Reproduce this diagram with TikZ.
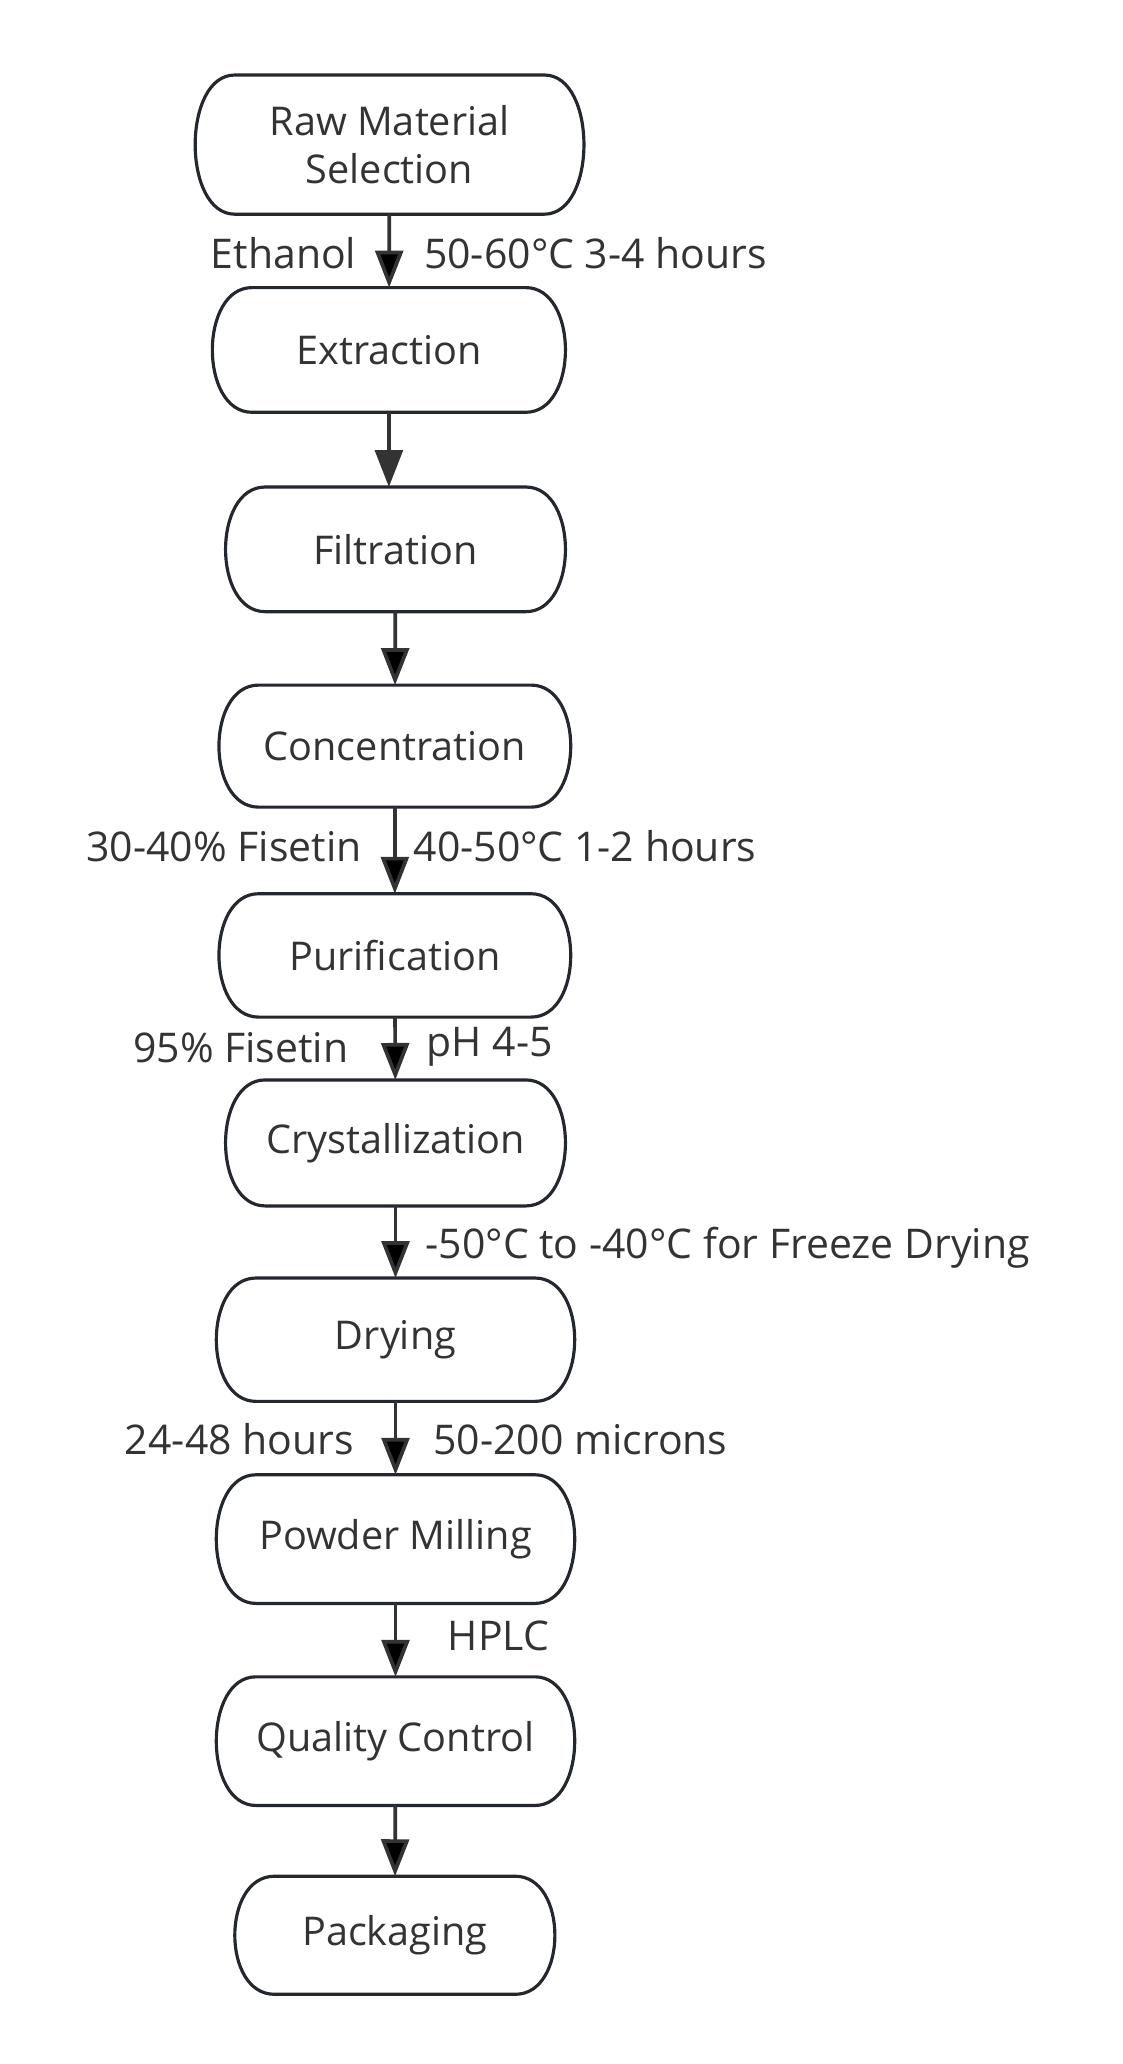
\documentclass[tikz,border=0pt]{standalone}
\usepackage{fontspec}
\setmainfont{Open Sans}
\usetikzlibrary{arrows.meta}
\definecolor{inkline}{HTML}{23272E}
\definecolor{inktext}{HTML}{333333}
\tikzset{
  stage/.style={rectangle, text=inktext, align=center, inner sep=0pt, font=\fontsize{30}{37}\selectfont,
    append after command={\pgfextra{
      \draw[draw=inkline, line width=2.4pt]
        ([xshift=30pt]\tikzlastnode.north west) -- ([xshift=-30pt]\tikzlastnode.north east)
        .. controls ([xshift=10pt]\tikzlastnode.north east) and ([xshift=10pt]\tikzlastnode.south east) .. ([xshift=-30pt]\tikzlastnode.south east)
        -- ([xshift=30pt]\tikzlastnode.south west)
        .. controls ([xshift=-10pt]\tikzlastnode.south west) and ([xshift=-10pt]\tikzlastnode.north west) .. cycle;
    }}},
  flow/.style={-{Triangle[length=28pt,width=21pt]}, line width=2.8pt, draw=inktext},
  cond/.style={text=inktext, inner sep=0pt, font=\fontsize{31}{36}\selectfont},
}
\begin{document}
\begin{tikzpicture}[x=1pt, y=-1pt]
\useasboundingbox (0,0) rectangle (850,1563);

\node[stage, minimum width=294pt, minimum height=105pt] (Raw) at (295,109.5) {Raw Material\\Selection};
\node[stage, minimum width=267pt, minimum height=94pt] (Extr) at (294.5,265) {Extraction};
\node[stage, minimum width=257pt, minimum height=94pt] (Filt) at (299.5,416) {Filtration};
\node[stage, minimum width=266pt, minimum height=92pt] (Conc) at (299,565) {Concentration};
\node[stage, minimum width=266pt, minimum height=93pt] (Puri) at (299,723.5) {Purification};
\node[stage, minimum width=257pt, minimum height=95pt] (Crys) at (299.5,865.5) {Crystallization};
\node[stage, minimum width=271pt, minimum height=93pt] (Dry) at (299.5,1014.5) {Drying};
\node[stage, minimum width=271pt, minimum height=97pt] (Mill) at (299.5,1165.5) {Powder Milling};
\node[stage, minimum width=271pt, minimum height=97pt] (QC) at (299.5,1318.5) {Quality Control};
\node[stage, minimum width=242pt, minimum height=89pt] (Pack) at (299,1465.5) {Packaging};

\node[cond, anchor=east] (EthL) at (270,192) {Ethanol};
\node[cond, anchor=west] (EthR) at (321,192) {50-60°C 3-4 hours};
\node[cond, anchor=east] (ConL) at (274,641) {30-40\% Fisetin};
\node[cond, anchor=west] (ConR) at (313,641) {40-50°C 1-2 hours};
\node[cond, anchor=east] (PurL) at (264,793) {95\% Fisetin};
\node[cond, anchor=west] (PurR) at (323,793) {pH 4-5};
\node[cond, anchor=west] (CryR) at (322,945) {-50°C to -40°C for Freeze Drying};
\node[cond, anchor=east] (DryL) at (268,1090) {24-48 hours};
\node[cond, anchor=west] (DryR) at (328,1090) {50-200 microns};
\node[cond, anchor=west] (MilR) at (339,1239) {HPLC};

\coordinate (FiltIn) at (Extr.south |- Filt.north);

\path[flow] (Raw) edge node {} (Extr);
\draw[flow] (Extr.south) -- (FiltIn);
\path[flow] (Filt) edge node {} (Conc);
\path[flow] (Conc) edge node {} (Puri);
\path[flow] (Puri) edge node {} (Crys);
\path[flow] (Crys) edge node {} (Dry);
\path[flow] (Dry) edge node {} (Mill);
\path[flow] (Mill) edge node {} (QC);
\path[flow] (QC) edge node {} (Pack);
\end{tikzpicture}
\end{document}
